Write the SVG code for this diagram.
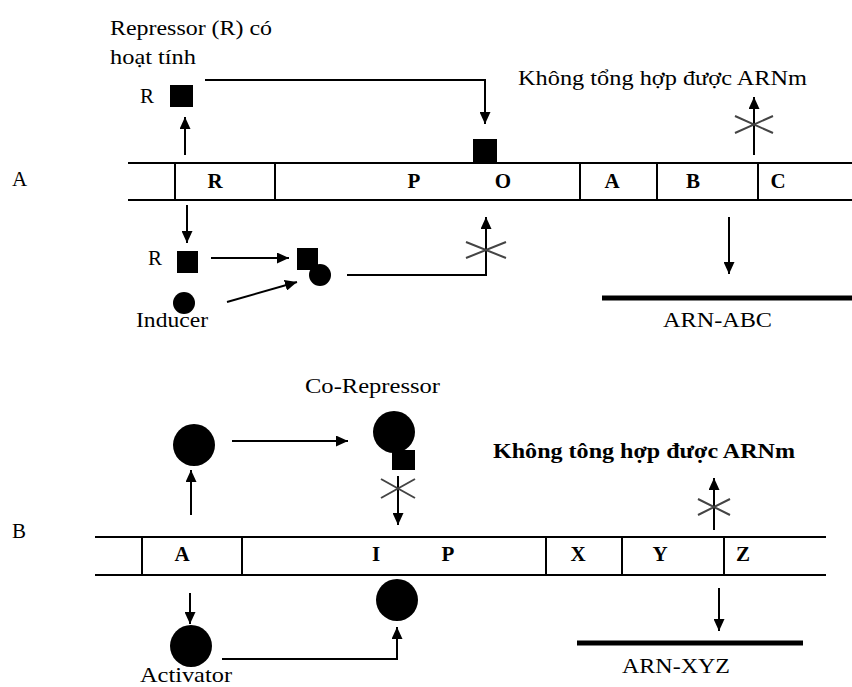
<svg xmlns="http://www.w3.org/2000/svg" width="852" height="687" viewBox="0 0 852 687">
  <defs>
    <marker id="head" markerUnits="userSpaceOnUse" markerWidth="12" markerHeight="11" refX="12" refY="5.5" orient="auto">
      <path d="M0,0 L12,5.5 L0,11 z" fill="#000"/>
    </marker>
  </defs>
  <style>
    text { font-family: "Liberation Serif", "Times New Roman", serif; fill: #000; }
    .lbl { font-size: 21px; }
    .gene { font-size: 21px; font-weight: bold; text-anchor: middle; }
    .strip { stroke: #000; stroke-width: 2; fill: none; }
    .arrow { stroke: #000; stroke-width: 2; fill: none; marker-end: url(#head); }
    .block { stroke: #444; stroke-width: 2; fill: none; }
    .mol { fill: #000; }
    .rna { stroke: #000; stroke-width: 5; }
  </style>

  <rect width="852" height="687" fill="#fff"/>

  <!-- Panel A: inducible operon -->
  <g id="panelA-label"><text class="lbl" x="12" y="186">A</text></g>

  <g id="operonA">
    <line class="strip" x1="128" y1="163" x2="852" y2="163"/>
    <line class="strip" x1="128" y1="200" x2="852" y2="200"/>
    <line class="strip" x1="175" y1="163" x2="175" y2="200"/>
    <line class="strip" x1="275" y1="163" x2="275" y2="200"/>
    <line class="strip" x1="580" y1="163" x2="580" y2="200"/>
    <line class="strip" x1="657" y1="163" x2="657" y2="200"/>
    <line class="strip" x1="758" y1="163" x2="758" y2="200"/>
    <text class="gene" x="215" y="188">R</text>
    <text class="gene" x="414" y="188">P</text>
    <text class="gene" x="503" y="188">O</text>
    <text class="gene" x="612" y="188">A</text>
    <text class="gene" x="693" y="188">B</text>
    <text class="gene" x="778" y="188">C</text>
  </g>

  <g id="active-repressor">
    <text class="lbl" x="110" y="35" textLength="162" lengthAdjust="spacingAndGlyphs">Repressor (R) có</text>
    <text class="lbl" x="110" y="64" textLength="86" lengthAdjust="spacingAndGlyphs">hoạt tính</text>
    <text class="lbl" x="140" y="103">R</text>
    <rect class="mol" x="170" y="85" width="23" height="22"/>
  </g>

  <g id="bound-repressor"><rect class="mol" x="473" y="139" width="24" height="24"/></g>

  <g id="no-mrna-A">
    <text class="lbl" x="518" y="85" textLength="289" lengthAdjust="spacingAndGlyphs">Không tổng hợp được ARNm</text>
  </g>

  <g id="repressor-R">
    <text class="lbl" x="148" y="265">R</text>
    <rect class="mol" x="177" y="251" width="21" height="22"/>
  </g>

  <g id="inducer">
    <circle class="mol" cx="184" cy="303" r="11"/>
    <text class="lbl" x="136" y="327" textLength="72" lengthAdjust="spacingAndGlyphs">Inducer</text>
  </g>

  <g id="repressor-inducer">
    <rect class="mol" x="297" y="248" width="21" height="22"/>
    <circle class="mol" cx="320" cy="275" r="11"/>
  </g>

  <g id="mrna-ABC">
    <line class="rna" x1="602" y1="298" x2="852" y2="298"/>
    <text class="lbl" x="663" y="327" textLength="109" lengthAdjust="spacingAndGlyphs">ARN-ABC</text>
  </g>

  <!-- Panel B: repressible operon with activator -->
  <g id="panelB-label"><text class="lbl" x="12" y="538">B</text></g>

  <g id="operonB">
    <line class="strip" x1="95" y1="537" x2="826" y2="537"/>
    <line class="strip" x1="95" y1="575" x2="826" y2="575"/>
    <line class="strip" x1="142" y1="537" x2="142" y2="575"/>
    <line class="strip" x1="242" y1="537" x2="242" y2="575"/>
    <line class="strip" x1="546" y1="537" x2="546" y2="575"/>
    <line class="strip" x1="622" y1="537" x2="622" y2="575"/>
    <line class="strip" x1="724" y1="537" x2="724" y2="575"/>
    <text class="gene" x="182" y="561">A</text>
    <text class="gene" x="376" y="561">I</text>
    <text class="gene" x="448" y="561">P</text>
    <text class="gene" x="578" y="561">X</text>
    <text class="gene" x="660" y="561">Y</text>
    <text class="gene" x="743" y="561">Z</text>
  </g>

  <g id="free-protein"><circle class="mol" cx="194" cy="445" r="21"/></g>

  <g id="co-repressor">
    <text class="lbl" x="305" y="393" textLength="135" lengthAdjust="spacingAndGlyphs">Co-Repressor</text>
    <circle class="mol" cx="394" cy="432" r="21"/>
    <rect class="mol" x="392" y="450" width="23" height="20"/>
  </g>

  <g id="no-mrna-B">
    <text class="lbl" x="493" y="458" font-weight="bold" textLength="302" lengthAdjust="spacingAndGlyphs">Không tông hợp được ARNm</text>
  </g>

  <g id="bound-activator"><circle class="mol" cx="397" cy="600" r="21"/></g>

  <g id="activator">
    <circle class="mol" cx="191" cy="646" r="21"/>
    <text class="lbl" x="140" y="682" textLength="92" lengthAdjust="spacingAndGlyphs">Activator</text>
  </g>

  <g id="mrna-XYZ">
    <line class="rna" x1="577" y1="643" x2="803" y2="643"/>
    <text class="lbl" x="622" y="673" textLength="108" lengthAdjust="spacingAndGlyphs">ARN-XYZ</text>
  </g>

  <!-- connectors -->
  <g id="connectors">
    <!-- panel A -->
    <line class="arrow" x1="185" y1="155" x2="185" y2="117"/>
    <polyline class="arrow" points="205,80 485,80 485,124"/>
    <line class="arrow" x1="754" y1="155" x2="754" y2="97"/>
    <line class="arrow" x1="187" y1="205" x2="187" y2="243"/>
    <line class="arrow" x1="211" y1="258" x2="289" y2="258"/>
    <line class="arrow" x1="227" y1="302" x2="297" y2="282"/>
    <polyline class="arrow" points="347,275 486,275 486,217"/>
    <line class="arrow" x1="729" y1="217" x2="729" y2="274"/>
    <!-- panel B -->
    <line class="arrow" x1="191" y1="515" x2="191" y2="470"/>
    <line class="arrow" x1="232" y1="441" x2="348" y2="441"/>
    <line class="arrow" x1="398" y1="476" x2="398" y2="525"/>
    <line class="arrow" x1="714" y1="530" x2="714" y2="478"/>
    <line class="arrow" x1="190" y1="593" x2="190" y2="624"/>
    <polyline class="arrow" points="222,659 397,659 397,627"/>
    <line class="arrow" x1="719" y1="588" x2="719" y2="631"/>
    <!-- blocked-path crosses -->
    <path class="block" d="M735,116 L773,133 M735,133 L773,116"/>
    <path class="block" d="M466,242 L506,258 M466,258 L506,242"/>
    <path class="block" d="M381,479 L415,498 M381,498 L415,479"/>
    <path class="block" d="M698,499 L730,515 M698,515 L730,499"/>
  </g>
</svg>
